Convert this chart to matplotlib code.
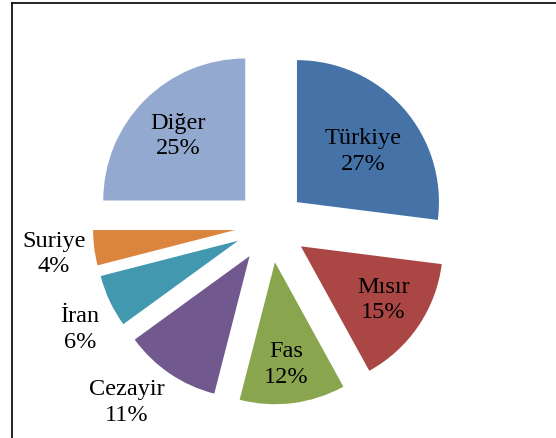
import numpy as np
import matplotlib
matplotlib.use("Agg")
import matplotlib.pyplot as plt
from matplotlib.lines import Line2D

# ---- data ----
categories = ["Türkiye", "Mısır", "Fas", "Cezayir", "İran", "Suriye", "Diğer"]
shares = [27, 15, 12, 11, 6, 4, 25]

# ---- style ----
colors = ["#4572A7", "#AA4643", "#89A54E", "#71588F", "#4198AF", "#DB843D", "#93A9CF"]
explode = [0.25, 0.26, 0.26, 0.26, 0.25, 0.25, 0.25]
label_dist = [0.59, 0.69, 0.72, 1.34, 1.275, 1.285, 0.66]
label_dang = [-3.5, 1.7, -0.9, -6.0, 3.9, 0.0, 0.7]

plt.rcParams['font.family'] = ['Liberation Serif', 'DejaVu Serif']

W, H = 556, 439
fig = plt.figure(figsize=(W / 100, H / 100), dpi=100)
ax = fig.add_axes([0, 0, 1, 1])

wedges, _ = ax.pie(shares, colors=colors, explode=explode, startangle=90,
                   counterclock=False, wedgeprops=dict(linewidth=0))

ax.set_aspect('auto')
ax.set_xlim(-1.904, 2.012)
ax.set_ylim(-1.496, 1.596)
ax.axis('off')

for w, name, val, d, da in zip(wedges, categories, shares, label_dist, label_dang):
    mid = np.deg2rad((w.theta1 + w.theta2) / 2 + da)
    cx, cy = w.center
    ax.text(cx + d * np.cos(mid), cy + d * np.sin(mid), f"{name}\n{val}%",
            ha='center', va='center', fontsize=17.5, color='black',
            linespacing=1.3)

# outer frame (left and top edges visible)
x0 = 12 / W
y0 = 1 - 3.7 / H
fig.add_artist(Line2D([x0, x0], [0, y0], transform=fig.transFigure,
                      color='black', linewidth=1.2))
fig.add_artist(Line2D([x0, 1], [y0, y0], transform=fig.transFigure,
                      color='black', linewidth=1.2))

fig.savefig("out.png", dpi=100)
